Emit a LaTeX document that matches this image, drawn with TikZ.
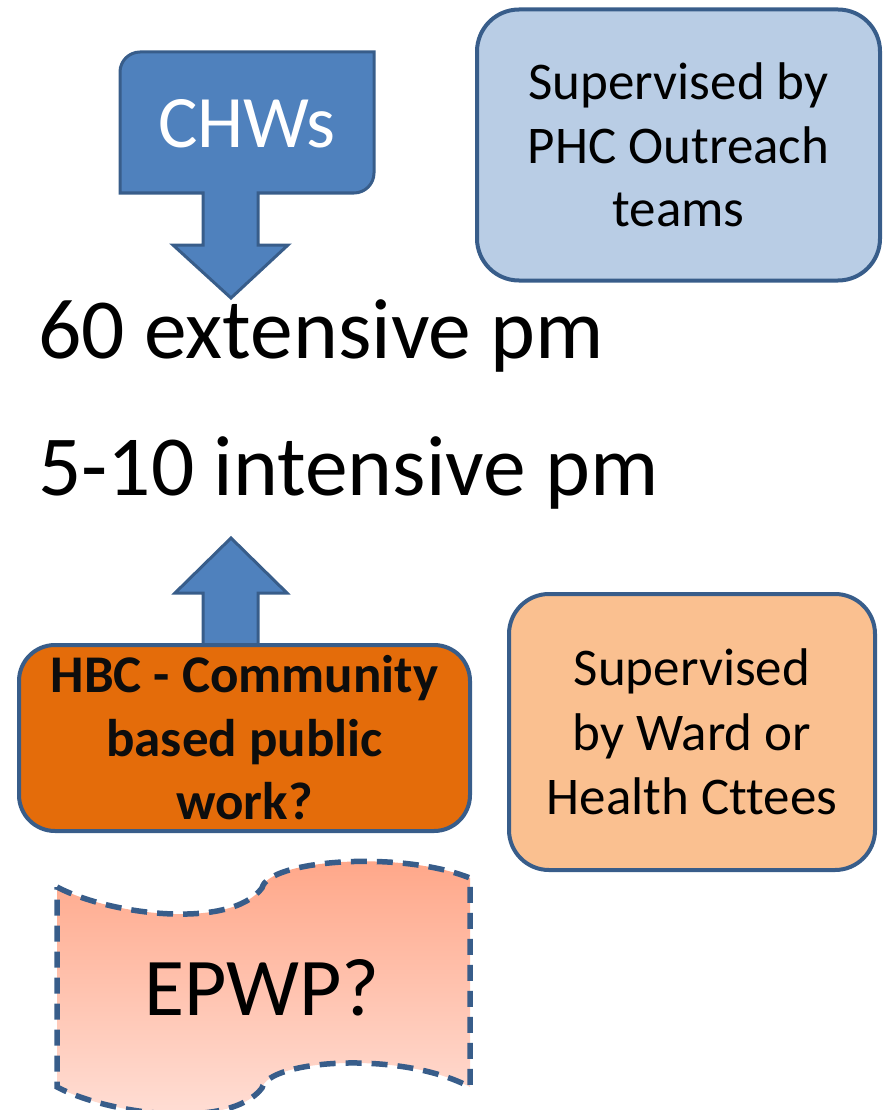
\documentclass[tikz,border=0pt]{standalone}
\usepackage{fontspec}
\setmainfont{Carlito}[Ligatures={NoCommon,NoContextual},Contextuals=NoAlternate]
\definecolor{accent}{HTML}{4F81BD}
\definecolor{accentdark}{HTML}{385D8A}
\definecolor{lightblue}{HTML}{B9CDE5}
\definecolor{lightorange}{HTML}{FAC090}
\definecolor{hbcorange}{HTML}{E46C0A}
\definecolor{wavetop}{HTML}{FFA586}
\definecolor{wavebot}{HTML}{FFE1D9}
\begin{document}
\begin{tikzpicture}[x=1pt,y=-1pt,
  box/.style={draw=accentdark,line width=4pt,inner sep=0pt,align=center},
  blockarrow/.style={fill=accent,draw=accentdark,line width=3pt,line join=miter},
  bigtext/.style={inner sep=0pt,anchor=base west,font=\fontsize{85.5}{100}\selectfont}]
\useasboundingbox (0,0) rectangle (885,1110);

% CHWs down-arrow callout
\draw[blockarrow] (120,193) -- (120,72) .. controls (120,61) and (129,52) .. (140,52)
  -- (374,52) -- (374,173) .. controls (374,184) and (365,193) .. (354,193)
  -- (258,193) -- (258,245) -- (288,245) -- (231,298) -- (173,245) -- (203,245) -- (203,193) -- cycle;
\node[inner sep=0pt,anchor=base,text=white,font=\fontsize{74}{88}\selectfont] (chws) at (247,148) {CHWs};

% Supervised by PHC box
\node[box,fill=lightblue,rounded corners=42pt,minimum width=403pt,minimum height=271pt,
  font=\fontsize{53}{63.5}\selectfont] (phc) at (678.5,145) {Supervised by\\PHC Outreach\\teams};

% Middle texts
\node[bigtext] (ext) at (38,358) {60 extensive pm};
\node[bigtext] (int) at (38,495) {5-10 intensive pm};

% Up arrow
\draw[blockarrow] (203,660) -- (203,593) -- (175,593) -- (231,538) -- (287,593) -- (258,593) -- (258,660) -- cycle;

% HBC box
\node[box,fill=hbcorange,rounded corners=36pt,minimum width=451pt,minimum height=186pt,
  font=\fontsize{53}{63.5}\selectfont\bfseries,text=black!95] (hbc) at (244.5,738) {HBC - Community\\based public\\work?};

% Supervised by Ward box
\node[box,fill=lightorange,rounded corners=40pt,minimum width=366pt,minimum height=276pt,
  font=\fontsize{53}{64.5}\selectfont] (ward) at (692,732) {Supervised\\by Ward or\\Health Cttees};

% EPWP double wave
\path[top color=wavetop,bottom color=wavebot,draw=accentdark,line width=5.5pt,dash pattern=on 16pt off 10pt]
  (57,887) .. controls (110,915) and (230,930) .. (262,888)
  .. controls (268,860) and (400,850) .. (470,878)
  -- (470,1087)
  .. controls (400,1050) and (268,1060) .. (262,1088)
  .. controls (230,1130) and (110,1115) .. (57,1087) -- cycle;
\node[inner sep=0pt,anchor=base,font=\fontsize{82}{96}\selectfont] (epwp) at (262,1015) {EPWP?};
\end{tikzpicture}
\end{document}
